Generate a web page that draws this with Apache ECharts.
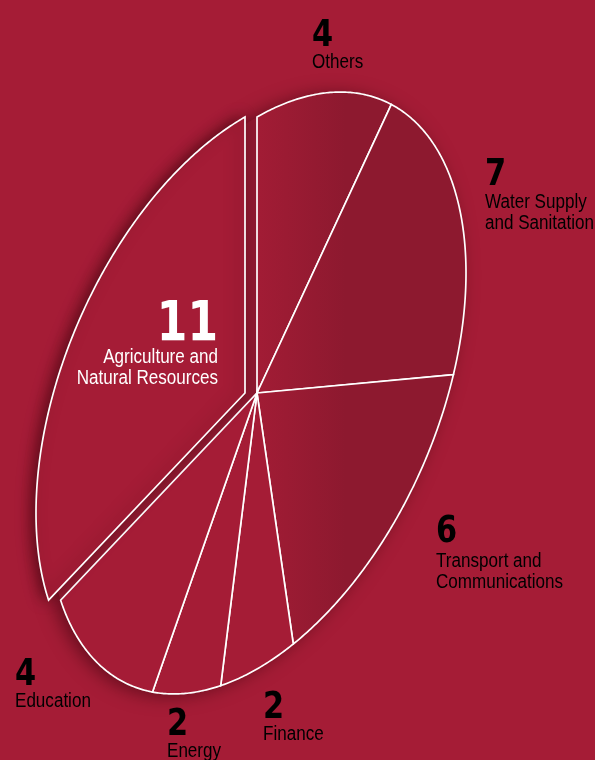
<!DOCTYPE html>
<html><head><meta charset="utf-8">
<script src="https://cdn.jsdelivr.net/npm/echarts/dist/echarts.min.js"></script>
<style>html,body{margin:0;padding:0;background:#A51C36;}#c{width:595px;height:760px;}</style>
</head><body><div id="c"></div>
<script>
// ---- data ----
const categories = ['Others', 'Water Supply\nand Sanitation', 'Transport and\nCommunications', 'Finance', 'Energy', 'Education', 'Agriculture and\nNatural Resources'];
const values = [4, 7, 6, 2, 2, 4, 11];
const exploded = [false, false, false, false, false, false, true];

// ---- layout / style ----
const CENTER = [257, 393];
const AXIS_P = [0, -276];   // image of circle's 12 o'clock radius
const AXIS_Q = [209, -120]; // image of circle's 3 o'clock radius
const EXPLODE = [-12, 0];
// [x, number baseline, first text baseline, align, colour, number size]
const labelLayout = [
  [312, 48, 68, 'left', '#000', 38],
  [485, 187, 208, 'left', '#000', 38],
  [436, 544, 567, 'left', '#000', 38],
  [263, 720, 740, 'left', '#000', 38],
  [167, 737, 757, 'left', '#000', 38],
  [15, 687, 707, 'left', '#000', 38],
  [218, 342, 363, 'right', '#fff', 55]
];
const BG = '#A51C36';
const DARK = '#8D192F';
const darkSlices = [true, true, true, false, false, false, false];
const LINE_H = 21, TXT = 19.5, TXT_SX = 0.875, NUM_SX = 0.8, MID = 0.3;

const total = values.reduce((a, b) => a + b, 0);
const cumulative = [];
values.reduce((acc, v, i) => { cumulative[i] = acc; return acc + v; }, 0);

function ellPoint(deg, off) {
  const r = deg * Math.PI / 180, c = Math.cos(r), s = Math.sin(r);
  return [CENTER[0] + off[0] + AXIS_P[0] * c + AXIS_Q[0] * s,
          CENTER[1] + off[1] + AXIS_P[1] * c + AXIS_Q[1] * s];
}
const basePts = [];
for (let k = 0; k < 360; k++) basePts.push(ellPoint(k, [0, 0]));

function textEl(str, x, baseline, size, sx, align, fill, font) {
  return {
    type: 'text', z2: 10, x: x, y: baseline - MID * size, scaleX: sx,
    style: {text: str, x: 0, y: 0, align: align, verticalAlign: 'middle', fill: fill,
      font: font.replace('%s', size + 'px')}
  };
}

const chart = echarts.init(document.getElementById('c'), null, {renderer: 'canvas'});
const grad = new echarts.graphic.LinearGradient(257, 0, 345, 0,
  [{offset: 0, color: '#A21C35'}, {offset: 1, color: DARK}], true);

chart.setOption({
  backgroundColor: BG,
  animation: false,
  graphic: [{
    type: 'polygon', z: 0, silent: true,
    shape: {points: basePts},
    style: {fill: DARK, shadowBlur: 18, shadowColor: 'rgba(50,0,10,0.55)', shadowOffsetX: -6, shadowOffsetY: 2}
  }],
  series: [{
    type: 'custom',
    coordinateSystem: 'none',
    z: 2,
    silent: true,
    data: values.map((v, i) => ({name: categories[i], value: [v]})),
    renderItem: function (params, api) {
      const i = params.dataIndex;
      const v = api.value(0);
      const a0 = cumulative[i] / total * 360;
      const a1 = (cumulative[i] + v) / total * 360;
      const off = exploded[i] ? EXPLODE : [0, 0];
      const pts = [[CENTER[0] + off[0], CENTER[1] + off[1]]];
      const n = Math.max(4, Math.ceil((a1 - a0) * 2));
      for (let k = 0; k <= n; k++) pts.push(ellPoint(a0 + (a1 - a0) * k / n, off));
      const style = {fill: darkSlices[i] ? grad : BG, stroke: '#fff', lineWidth: 1.7, lineJoin: 'miter'};
      if (exploded[i]) {
        style.shadowBlur = 14; style.shadowColor = 'rgba(50,0,10,0.5)'; style.shadowOffsetX = -5;
      }
      const L = labelLayout[i];
      const children = [{type: 'polygon', shape: {points: pts}, style: style}];
      children.push(textEl(String(v), L[0], L[1], L[5], NUM_SX, L[3], L[4], 'bold %s "DejaVu Sans", sans-serif'));
      categories[i].split('\n').forEach((line, j) => {
        children.push(textEl(line, L[0], L[2] + j * LINE_H, TXT, TXT_SX, L[3], L[4], '%s "Liberation Sans", Arial, sans-serif'));
      });
      return {type: 'group', children: children};
    }
  }]
});
</script></body></html>
